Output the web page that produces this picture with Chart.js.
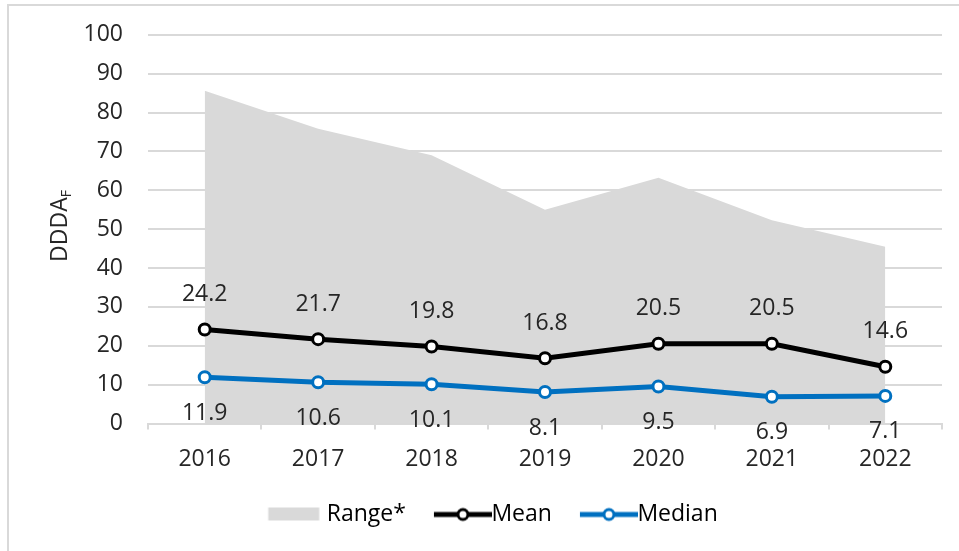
<!DOCTYPE html>
<html>
<head>
<meta charset="utf-8">
<script src="https://cdn.jsdelivr.net/npm/chart.js@4"></script>
<style>
  body { margin: 0; background: #fff; }
  #frame { position: absolute; left: 7px; top: 4px; width: 1000px; height: 600px;
           border-left: 2px solid #d9d9d9; border-top: 2px solid #d9d9d9; }
  #wrap { position: absolute; left: 0; top: 0; width: 959px; height: 551px; }
</style>
</head>
<body>
<div id="frame"></div>
<div id="wrap"><canvas id="chart"></canvas></div>
<script>
const years = ['2016', '2017', '2018', '2019', '2020', '2021', '2022'];
const rangeMax = [85.6, 75.8, 69.0, 55.0, 63.2, 52.3, 45.5];
const meanVals = [24.2, 21.7, 19.8, 16.8, 20.5, 20.5, 14.6];
const medianVals = [11.9, 10.6, 10.1, 8.1, 9.5, 6.9, 7.1];
const yTicks = [0, 10, 20, 30, 40, 50, 60, 70, 80, 90, 100];

const FONT = '"Open Sans"';
const TEXT = '#262626';
const GRID = '#d9d9d9';
const BLUE = '#0070C0';

Chart.defaults.font.family = FONT;
Chart.defaults.font.size = 23;
Chart.defaults.color = TEXT;

// legend swatches; the legend box is 47 wide and the image is centred on it
function swatch(kind, color) {
  const c = document.createElement('canvas');
  const g = c.getContext('2d');
  if (kind === 'box') {
    c.width = 60; c.height = 16;
    g.fillStyle = color;
    g.fillRect(6.5, 1, 51, 13);
  } else {
    c.width = 71; c.height = 16;
    g.strokeStyle = color;
    g.lineWidth = 5;
    g.beginPath(); g.moveTo(13, 8); g.lineTo(71, 8); g.stroke();
    g.beginPath(); g.arc(42, 8, 5, 0, Math.PI * 2);
    g.fillStyle = '#fff'; g.fill();
    g.lineWidth = 3; g.stroke();
  }
  return c;
}

const dataLabels = {
  id: 'dataLabels',
  afterDatasetsDraw(chart) {
    const ctx = chart.ctx;
    ctx.save();
    ctx.font = '23px ' + FONT;
    ctx.fillStyle = TEXT;
    ctx.textAlign = 'center';
    ctx.textBaseline = 'middle';
    [[1, -35], [2, 36]].forEach(([di, dy]) => {
      const vals = chart.data.datasets[di].data;
      chart.getDatasetMeta(di).data.forEach((pt, i) => {
        ctx.fillText(vals[i].toFixed(1), pt.x, pt.y + dy);
      });
    });
    ctx.restore();
  }
};

const yTitle = {
  id: 'yTitle',
  afterDraw(chart) {
    const ctx = chart.ctx;
    ctx.save();
    ctx.translate(60, 226);
    ctx.rotate(-Math.PI / 2);
    ctx.fillStyle = TEXT;
    ctx.textBaseline = 'middle';
    ctx.font = '23px ' + FONT;
    const w1 = ctx.measureText('DDDA').width;
    ctx.font = '14px ' + FONT;
    const w2 = ctx.measureText('F').width;
    const x0 = -(w1 + w2) / 2;
    ctx.font = '23px ' + FONT;
    ctx.fillText('DDDA', x0, 0);
    ctx.font = '14px ' + FONT;
    ctx.fillText('F', x0 + w1, 7);
    ctx.restore();
  }
};

new Chart(document.getElementById('chart'), {
  type: 'line',
  data: {
    labels: years,
    datasets: [{
      label: 'Range*',
      data: rangeMax,
      fill: 'origin',
      backgroundColor: GRID,
      borderWidth: 0,
      pointRadius: 0,
      order: 3
    }, {
      label: 'Mean',
      data: meanVals,
      borderColor: '#000',
      borderWidth: 5,
      pointRadius: 5.5,
      pointBorderWidth: 3,
      pointBackgroundColor: '#fff',
      pointBorderColor: '#000',
      order: 1
    }, {
      label: 'Median',
      data: medianVals,
      borderColor: BLUE,
      borderWidth: 5,
      pointRadius: 5.5,
      pointBorderWidth: 3,
      pointBackgroundColor: '#fff',
      pointBorderColor: BLUE,
      order: 0
    }]
  },
  options: {
    responsive: true,
    maintainAspectRatio: false,
    animation: false,
    layout: { padding: { left: 44, right: 17, top: 20, bottom: 15 } },
    plugins: {
      tooltip: { enabled: false },
      legend: {
        position: 'bottom',
        labels: {
          usePointStyle: true,
          pointStyleWidth: 47,
          padding: 27,
          color: TEXT,
          font: { size: 23, family: FONT },
          generateLabels(chart) {
            const kinds = ['box', 'line', 'line'];
            const cols = [GRID, '#000', BLUE];
            return chart.data.datasets.map((ds, i) => ({
              text: ds.label,
              pointStyle: swatch(kinds[i], cols[i]),
              fillStyle: cols[i],
              strokeStyle: cols[i],
              lineWidth: 0,
              datasetIndex: i,
              hidden: false
            }));
          }
        }
      }
    },
    scales: {
      x: {
        offset: true,
        grid: { display: true, drawOnChartArea: false, drawTicks: true, tickLength: 6,
                offset: true, color: GRID, lineWidth: 2 },
        border: { display: true, color: GRID, width: 2 },
        ticks: { padding: 16, color: TEXT, font: { size: 23 } },
        afterFit(scale) { scale.height = 52.5; }
      },
      y: {
        min: 0,
        max: 100,
        afterBuildTicks(scale) { scale.ticks = yTicks.map(v => ({ value: v })); },
        grid: { color: GRID, lineWidth: 2, drawTicks: true, tickLength: 4,
                tickColor: 'rgba(0,0,0,0)' },
        border: { display: false },
        ticks: { padding: 21, color: TEXT, font: { size: 23 } },
        afterFit(scale) { scale.width = 104; }
      }
    }
  },
  plugins: [dataLabels, yTitle]
});
</script>
</body>
</html>
